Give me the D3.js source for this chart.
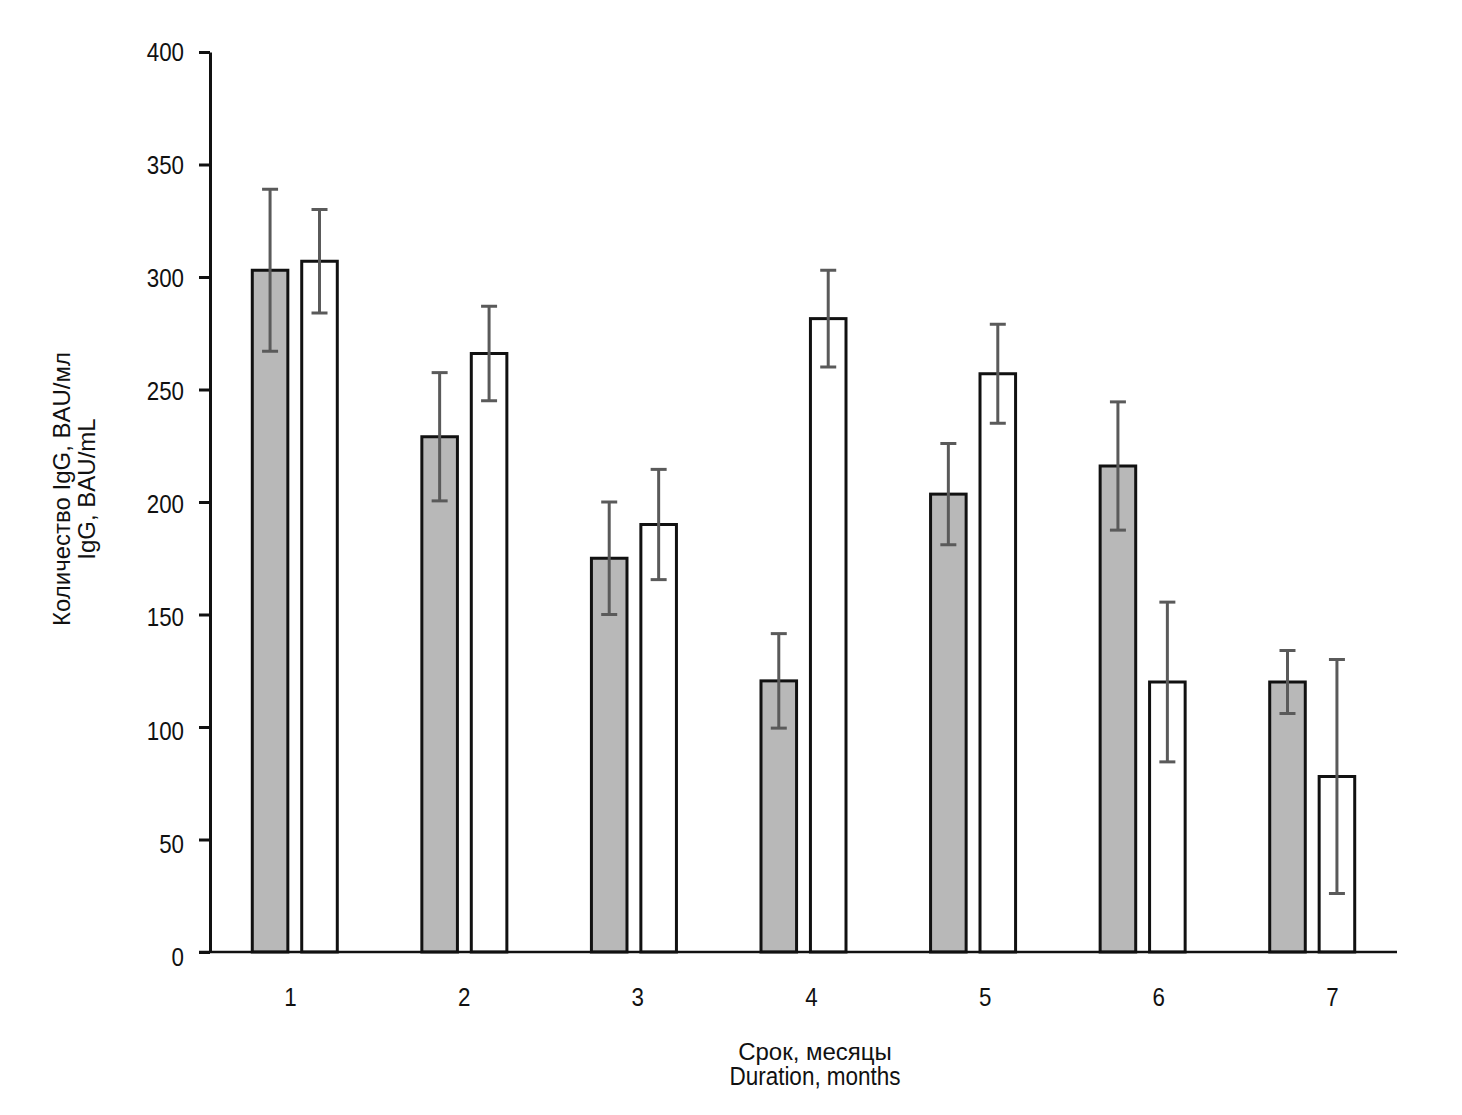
<!DOCTYPE html>
<html><head><meta charset="utf-8">
<script src="https://cdn.jsdelivr.net/npm/d3@7"></script>
<style>
body{margin:0;background:#fff;}
text{font-family:"Liberation Sans Narrow","Arial Narrow","Liberation Sans",Arial,sans-serif;fill:#111;}
</style></head>
<body>
<svg id="chart" width="1462" height="1115"></svg>
<script>
const months = ["1","2","3","4","5","6","7"];
const series = ["gray","white"];
const grayMean = [303, 229, 175, 120.5, 203.5, 216, 120];
const grayErr = [36, 28.5, 25, 21, 22.5, 28.5, 14];
const whiteMean = [307, 266, 190, 281.5, 257, 120, 78];
const whiteErr = [23, 21, 24.5, 21.5, 22, 35.5, 52];
const yTicks = [0, 50, 100, 150, 200, 250, 300, 350, 400];
const yTitle = ["Количество IgG, BAU/мл", "IgG, BAU/mL"];
const xTitle = ["Срок, месяцы", "Duration, months"];

const svg = d3.select("#chart");
const pLeft = 210, pRight = 1397, pTop = 52, pBottom = 952;
const fontStack = '"Liberation Sans Narrow","Arial Narrow","Liberation Sans",Arial,sans-serif';
const sx = 0.86;

const y = d3.scaleLinear().domain([0, 400]).range([pBottom, pTop]);
const yl = d3.scaleLinear().domain([0, 400]).range([pBottom + 5, pTop]);
const x0 = d3.scaleBand().domain(months).range([pLeft, pRight]).paddingInner(0.481).paddingOuter(0.2405);
const x1 = d3.scaleBand().domain(series).range([0, x0.bandwidth()]).paddingInner(0.22);
const xl = d3.scalePoint().domain(months).range([290, 1332]);

const data = [];
months.forEach((m, i) => {
  data.push({m, s: "gray", v: grayMean[i], e: grayErr[i]});
  data.push({m, s: "white", v: whiteMean[i], e: whiteErr[i]});
});
const fill = {gray: "#b8b8b8", white: "#ffffff"};

// bars
svg.append("g").selectAll("rect").data(data).join("rect")
  .attr("x", d => x0(d.m) + x1(d.s) + 1.5)
  .attr("width", x1.bandwidth() - 3)
  .attr("y", d => y(d.v))
  .attr("height", d => y(0) - y(d.v))
  .attr("fill", d => fill[d.s])
  .attr("stroke", "#111")
  .attr("stroke-width", 3);

// error bars
const eb = svg.append("g").attr("stroke", "#5a5a5a").attr("stroke-width", 3);
data.forEach(d => {
  const cx = x0(d.m) + x1(d.s) + x1.bandwidth() / 2;
  eb.append("line").attr("x1", cx).attr("x2", cx).attr("y1", y(d.v + d.e)).attr("y2", y(d.v - d.e));
  eb.append("line").attr("x1", cx - 8).attr("x2", cx + 8).attr("y1", y(d.v + d.e)).attr("y2", y(d.v + d.e));
  eb.append("line").attr("x1", cx - 8).attr("x2", cx + 8).attr("y1", y(d.v - d.e)).attr("y2", y(d.v - d.e));
});

// x axis line
svg.append("line").attr("x1", pLeft - 11).attr("x2", pRight).attr("y1", pBottom).attr("y2", pBottom)
  .attr("stroke", "#111").attr("stroke-width", 2.5);

// x tick labels
const gx = svg.append("g").attr("transform", `translate(0,${pBottom})`)
  .call(d3.axisBottom(xl).tickSize(0).tickPadding(36));
gx.select(".domain").remove();
gx.selectAll("text").attr("font-size", 26).style("font-family", fontStack).attr("fill", "#111")
  .attr("transform", `scale(${sx},1)`);
gx.selectAll(".tick").each(function () {
  const t = d3.select(this);
  // keep centre after scaling: translate is on the tick group, text x=0 so scaling keeps centre
});

// y axis (ticks and line)
const gy = svg.append("g").attr("transform", `translate(${pLeft},0)`)
  .call(d3.axisLeft(y).tickValues(yTicks).tickSize(11).tickFormat("").tickSizeOuter(0));
gy.select(".domain").attr("stroke", "#111").attr("stroke-width", 3);
gy.selectAll(".tick line").attr("stroke", "#111").attr("stroke-width", 3);

// y tick labels
const gyl = svg.append("g").attr("transform", `translate(${pLeft},0)`)
  .call(d3.axisLeft(yl).tickValues(yTicks).tickSize(0).tickPadding(26));
gyl.select(".domain").remove();
gyl.selectAll("text").attr("font-size", 26).style("font-family", fontStack).attr("fill", "#111")
  .attr("x", -26 / sx).attr("transform", `scale(${sx},1)`);

// y title
const yt = svg.append("text").attr("transform", "translate(70,489) rotate(-90)")
  .attr("text-anchor", "middle").attr("font-size", 24);
yt.append("tspan").attr("x", 0).attr("dy", 0).text(yTitle[0]);
yt.append("tspan").attr("x", 0).attr("dy", 25).text(yTitle[1]);

// x title
const xt = svg.append("g").attr("transform", "translate(815,1060)");
xt.append("text").attr("text-anchor", "middle").attr("font-size", 24).text(xTitle[0]);
xt.append("text").attr("text-anchor", "middle").attr("font-size", 25).attr("y", 25)
  .attr("transform", "scale(0.9,1)").text(xTitle[1]);
</script>
</body></html>
